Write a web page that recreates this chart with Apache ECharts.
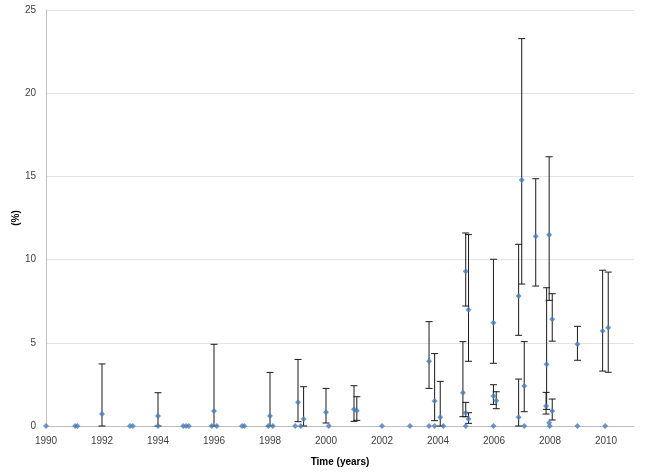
<!DOCTYPE html>
<html>
<head>
<meta charset="utf-8">
<script src="https://cdn.jsdelivr.net/npm/echarts@6/dist/echarts.min.js"></script>
<style>html,body{margin:0;padding:0;background:#fff}#c{width:654px;height:476px}</style>
</head>
<body>
<div id="c"></div>
<script>
// Points with error bars
const barYears = [1992.0, 1994.0, 1996.0, 1998.0, 1999.0, 1999.2, 2000.0, 2001.0, 2001.1,
  2003.68, 2003.88, 2004.08, 2004.89, 2004.99, 2004.99, 2005.09, 2005.09,
  2005.98, 2005.98, 2006.08, 2006.88, 2006.88, 2006.99, 2007.08, 2007.49,
  2007.86, 2007.88, 2007.97, 2007.97, 2008.08, 2008.08, 2008.98, 2009.88, 2010.08];
const barValues = [0.72, 0.6, 0.9, 0.6, 1.42, 0.42, 0.82, 1.0, 0.92,
  3.89, 1.5, 0.52, 2.0, 9.3, 0.8, 6.99, 0.42,
  6.21, 1.8, 1.52, 7.81, 0.52, 14.78, 2.4, 11.4,
  1.2, 3.71, 11.5, 0.2, 6.41, 0.9, 4.91, 5.71, 5.91];
const barLow = [0, 0, 0, 0, 0.26, 0, 0.18, 0.28, 0.34,
  2.26, 0.32, 0, 0.56, 7.21, 0.56, 3.89, 0.16,
  3.77, 1.3, 1.04, 5.45, 0, 8.53, 0.86, 8.41,
  0.72, 1.0, 7.55, 0.2, 5.1, 0.36, 3.95, 3.3, 3.23];
const barHigh = [3.73, 2.0, 4.91, 3.22, 4.0, 2.36, 2.26, 2.42, 1.76,
  6.27, 4.35, 2.68, 5.07, 11.6, 1.42, 11.5, 0.8,
  10.02, 2.48, 2.06, 10.92, 2.82, 23.28, 5.07, 14.86,
  2.02, 8.31, 16.18, 0.2, 7.95, 1.62, 5.99, 9.36, 9.25];
// Points at zero (no error bar)
const zeroYears = [1990.0, 1991.04, 1991.12, 1993.0, 1993.1, 1994.0, 1994.9, 1995.0, 1995.1,
  1995.92, 1996.1, 1997.0, 1997.08, 1997.94, 1998.1, 1998.9, 1999.1, 2000.1,
  2002.0, 2003.0, 2003.68, 2003.88, 2004.19, 2004.99, 2005.98, 2007.08, 2007.99,
  2008.98, 2009.97];
const zeroValues = zeroYears.map(() => 0);

const xTicks = [1990, 1992, 1994, 1996, 1998, 2000, 2002, 2004, 2006, 2008, 2010];
const yTicks = [0, 5, 10, 15, 20, 25];

const errData = barYears.map((x, i) => [x, barLow[i], barHigh[i]]).filter(d => d[2] > d[1]);
const ptData = barYears.map((x, i) => [x, barValues[i]]).concat(zeroYears.map((x, i) => [x, zeroValues[i]]));

const chart = echarts.init(document.getElementById('c'), null, {renderer: 'canvas'});
const font = 'Liberation Sans';
chart.setOption({
  animation: false,
  grid: {left: 46, right: 20, top: 10, bottom: 50, containLabel: false, outerBoundsMode: 'none'},
  xAxis: {
    type: 'value', min: xTicks[0], max: 2011, interval: 2,
    name: 'Time (years)', nameLocation: 'middle', nameGap: 31, nameMoveOverlap: false,
    nameTextStyle: {fontFamily: font, fontSize: 10, fontWeight: 'bold', color: '#000'},
    axisLine: {show: true, lineStyle: {color: '#BFBFBF', width: 1}},
    axisTick: {show: false},
    axisLabel: {fontFamily: font, fontSize: 10, color: '#404040', margin: 10, showMaxLabel: false,
      formatter: v => xTicks.includes(v) ? String(v) : ''},
    splitLine: {show: false}
  },
  yAxis: {
    type: 'value', min: yTicks[0], max: yTicks[yTicks.length - 1], interval: 5,
    name: '(%)', nameLocation: 'middle', nameGap: 25, nameRotate: 90, nameMoveOverlap: false,
    nameTextStyle: {fontFamily: font, fontSize: 10, fontWeight: 'bold', color: '#000'},
    axisLine: {show: true, lineStyle: {color: '#BFBFBF', width: 1}},
    axisTick: {show: false},
    axisLabel: {fontFamily: font, fontSize: 10, color: '#404040', margin: 10},
    splitLine: {show: true, lineStyle: {color: '#E3E3E3', width: 1}}
  },
  series: [
    {
      type: 'custom',
      data: errData,
      encode: {x: 0, y: [1, 2]},
      z: 2,
      renderItem: function (params, api) {
        const x = api.value(0);
        const lo = api.coord([x, api.value(1)]);
        const hi = api.coord([x, api.value(2)]);
        const w = 3.5;
        const style = {stroke: '#1a1a1a', lineWidth: 1, fill: null};
        return {
          type: 'group',
          children: [
            {type: 'line', shape: {x1: hi[0], y1: hi[1], x2: lo[0], y2: lo[1]}, style: style},
            {type: 'line', shape: {x1: hi[0] - w, y1: hi[1], x2: hi[0] + w, y2: hi[1]}, style: style},
            {type: 'line', shape: {x1: lo[0] - w, y1: lo[1], x2: lo[0] + w, y2: lo[1]}, style: style}
          ]
        };
      }
    },
    {
      type: 'scatter',
      data: ptData,
      symbol: 'diamond',
      symbolSize: 6,
      z: 3,
      itemStyle: {color: '#4A7EBB'}
    }
  ]
});
</script>
</body>
</html>
